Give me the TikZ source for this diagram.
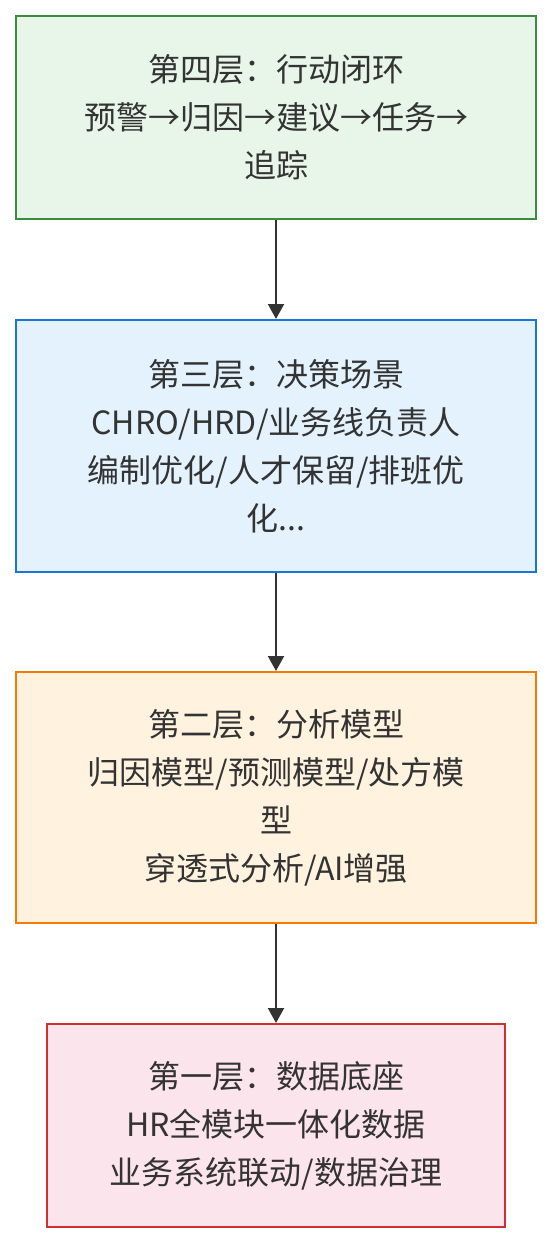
\documentclass[tikz,border=0pt]{standalone}
\usepackage{fontspec}
\setmainfont{Noto Sans CJK SC}
\usetikzlibrary{arrows.meta}
\definecolor{txt}{HTML}{333333}
\definecolor{gfill}{HTML}{E8F5E9}\definecolor{gdraw}{HTML}{388E3C}
\definecolor{bfill}{HTML}{E3F2FD}\definecolor{bdraw}{HTML}{1976D2}
\definecolor{ofill}{HTML}{FFF3E0}\definecolor{odraw}{HTML}{F57C00}
\definecolor{rfill}{HTML}{FCE4EC}\definecolor{rdraw}{HTML}{D32F2F}
\tikzset{
  layer/.style={rectangle, line width=2pt, text=txt, align=center, inner sep=0pt,
    font=\fontsize{32}{48}\selectfont},
  conn/.style={draw=txt, line width=2pt, -{Triangle[width=16pt,length=15pt]}}
}
\begin{document}
\begin{tikzpicture}[x=1pt,y=-1pt]
\useasboundingbox (0,0) rectangle (552,1244);
\node[layer, fill=gfill, draw=gdraw, minimum width=520pt, minimum height=203pt] (l4) at (276,117.5)
  {第四层：行动闭环\\预警→归因→建议→任务→\\追踪};
\node[layer, fill=bfill, draw=bdraw, minimum width=520pt, minimum height=252pt] (l3) at (276,446)
  {第三层：决策场景\\CHRO/HRD/业务线负责人\\编制优化/人才保留/排班优\\化...};
\node[layer, fill=ofill, draw=odraw, minimum width=520pt, minimum height=251pt] (l2) at (276,797.5)
  {第二层：分析模型\\归因模型/预测模型/处方模\\型\\穿透式分析/AI增强};
\node[layer, fill=rfill, draw=rdraw, minimum width=458pt, minimum height=203pt] (l1) at (276,1125.5)
  {第一层：数据底座\\HR全模块一体化数据\\业务系统联动/数据治理};
\draw[conn] (l4) -- (l3);
\draw[conn] (l3) -- (l2);
\draw[conn] (l2) -- (l1);
\end{tikzpicture}
\end{document}
